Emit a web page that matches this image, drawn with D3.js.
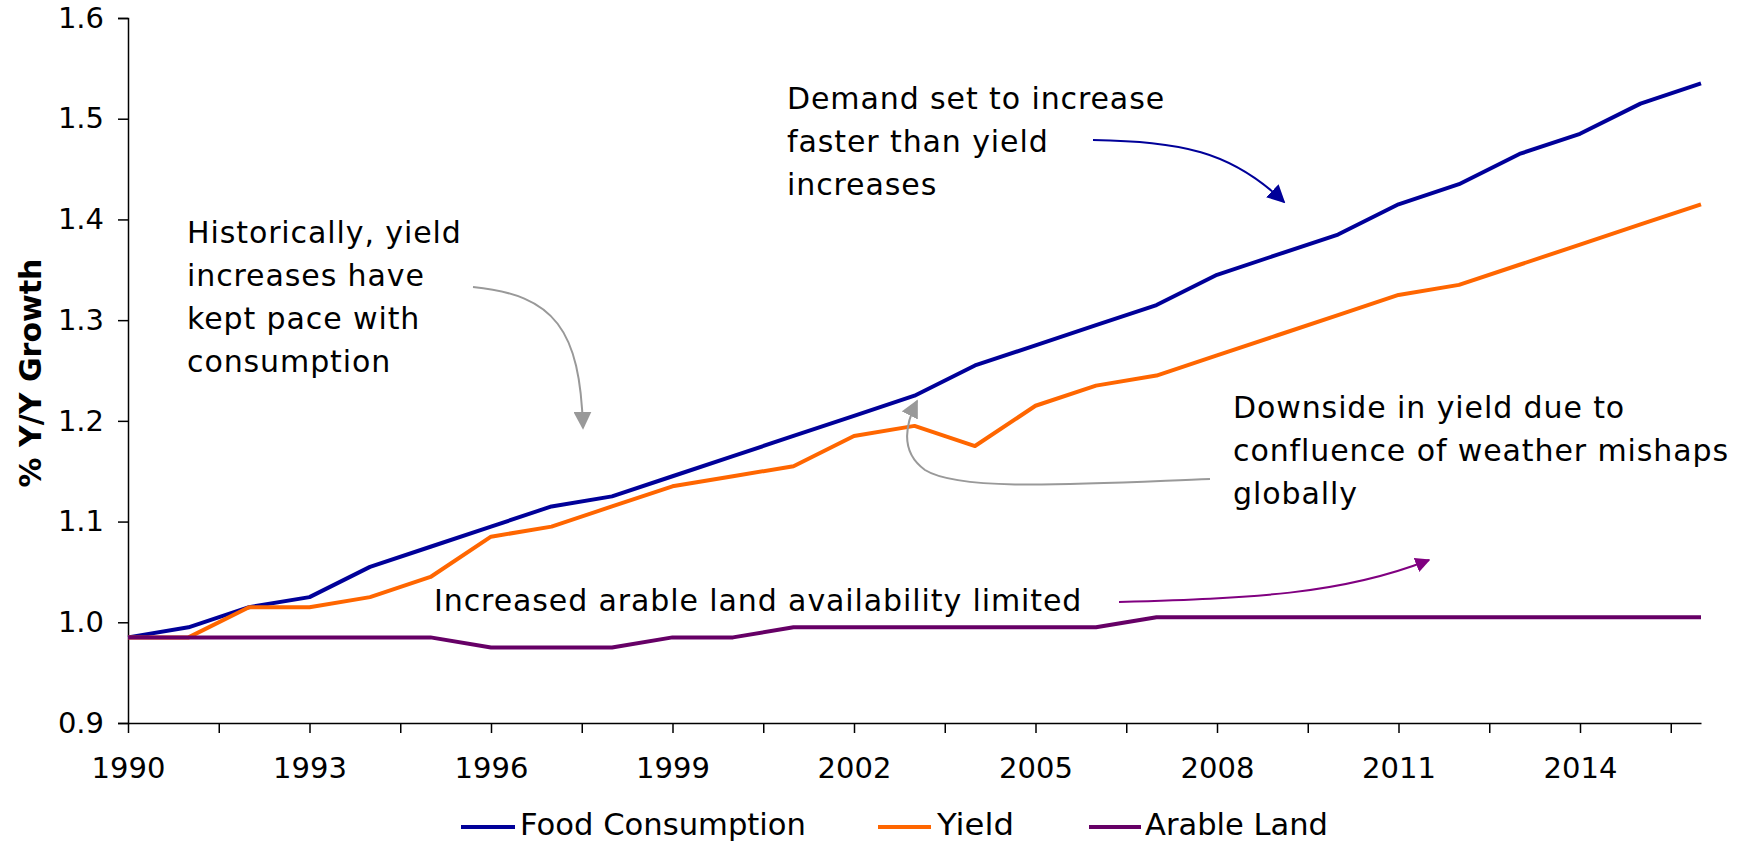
<!DOCTYPE html>
<html>
<head>
<meta charset="utf-8">
<script src="https://d3js.org/d3.v7.min.js"></script>
<style>
  body { margin: 0; background: #fff; }
  text { font-family: "DejaVu Sans", Verdana, sans-serif; fill: #000; }
</style>
</head>
<body>
<div id="chart"></div>
<script>
// Datos del gráfico
const years = d3.range(1990, 2017);
const foodConsumption = [0.985, 0.995, 1.015, 1.025, 1.055, 1.075, 1.095, 1.115, 1.125, 1.145, 1.165, 1.185, 1.205, 1.225, 1.255, 1.275, 1.295, 1.315, 1.345, 1.365, 1.385, 1.415, 1.435, 1.465, 1.485, 1.515, 1.535];
const yieldValues = [0.985, 0.985, 1.015, 1.015, 1.025, 1.045, 1.085, 1.095, 1.115, 1.135, 1.145, 1.155, 1.185, 1.195, 1.175, 1.215, 1.235, 1.245, 1.265, 1.285, 1.305, 1.325, 1.335, 1.355, 1.375, 1.395, 1.415];
const arableLand = [0.985, 0.985, 0.985, 0.985, 0.985, 0.985, 0.975, 0.975, 0.975, 0.985, 0.985, 0.995, 0.995, 0.995, 0.995, 0.995, 0.995, 1.005, 1.005, 1.005, 1.005, 1.005, 1.005, 1.005, 1.005, 1.005, 1.005];
const yTicks = [0.9, 1.0, 1.1, 1.2, 1.3, 1.4, 1.5, 1.6];
const xLabelYears = [1990, 1993, 1996, 1999, 2002, 2005, 2008, 2011, 2014];
const seriesNames = ["Food Consumption", "Yield", "Arable Land"];
const seriesColors = ["#000099", "#FF6600", "#660066"];

const W = 1746, H = 843;
const svg = d3.select("#chart").append("svg")
  .attr("width", W).attr("height", H);

const x = d3.scaleLinear().domain([1990, 2016]).range([128, 1701]);
const y = d3.scaleLinear().domain([0.9, 1.6]).range([723, 18]);

// Marcas de flecha
const defs = svg.append("defs");
function marker(id, color, size) {
  defs.append("marker")
    .attr("id", id)
    .attr("viewBox", "0 0 10 10")
    .attr("refX", 9).attr("refY", 5)
    .attr("markerUnits", "userSpaceOnUse")
    .attr("markerWidth", size).attr("markerHeight", size)
    .attr("orient", "auto")
    .append("path").attr("d", "M0,0 L10,5 L0,10 z").attr("fill", color);
}
marker("arrGray", "#999999", 18);
marker("arrBlue", "#000099", 18);
marker("arrPurple", "#800080", 15);

// Ejes
const yAxis = d3.axisLeft(y).tickValues(yTicks).tickFormat(d3.format(".1f")).tickSize(10).tickPadding(14);
svg.append("g").attr("transform", "translate(128,0)").call(yAxis)
  .call(g => g.select(".domain").attr("stroke-width", 1.5))
  .call(g => g.selectAll(".tick line").attr("stroke-width", 1.5))
  .call(g => g.selectAll("text").attr("font-size", 29).attr("font-family", "DejaVu Sans"));

const xTickVals = d3.range(0, 18).map(i => 1990 + i * 1.5);
const xAxis = d3.axisBottom(x).tickValues(xTickVals)
  .tickFormat(d => xLabelYears.includes(d) ? String(d) : "")
  .tickSize(10).tickSizeOuter(0).tickPadding(24);
svg.append("g").attr("transform", "translate(0,723)").call(xAxis)
  .call(g => g.select(".domain").attr("stroke-width", 1.5))
  .call(g => g.selectAll(".tick line").attr("stroke-width", 1.5))
  .call(g => g.selectAll("text").attr("font-size", 29).attr("font-family", "DejaVu Sans"));

// Título del eje Y
svg.append("text")
  .attr("transform", "translate(41,373) rotate(-90)")
  .attr("text-anchor", "middle")
  .attr("font-size", 30).attr("font-weight", "bold")
  .text("% Y/Y Growth");

// Líneas
const line = d3.line().x((d, i) => x(years[i])).y(d => y(d));
[foodConsumption, yieldValues, arableLand].forEach((s, k) => {
  svg.append("path").datum(s)
    .attr("d", line)
    .attr("fill", "none")
    .attr("stroke", seriesColors[k])
    .attr("stroke-width", 4)
    .attr("stroke-linejoin", "round");
});

// Anotaciones
function note(lines, left, base) {
  const t = svg.append("text").attr("font-size", 30).attr("letter-spacing", 0.9);
  lines.forEach((l, i) => {
    t.append("tspan").attr("x", left).attr("y", base + i * 43).text(l);
  });
}
note(["Historically, yield", "increases have", "kept pace with", "consumption"], 187, 243);
note(["Demand set to increase", "faster than yield", "increases"], 787, 109);
note(["Downside in yield due to", "confluence of weather mishaps", "globally"], 1233, 418);
note(["Increased arable land availability limited"], 434, 611);

svg.append("path")
  .attr("d", "M473,287 C555,295 580,330 583,428")
  .attr("fill", "none").attr("stroke", "#999999").attr("stroke-width", 2)
  .attr("marker-end", "url(#arrGray)");
svg.append("path")
  .attr("d", "M1210,479 C1080,484 960,492 925,470 C900,452 905,425 917,401")
  .attr("fill", "none").attr("stroke", "#999999").attr("stroke-width", 2)
  .attr("marker-end", "url(#arrGray)");
svg.append("path")
  .attr("d", "M1093,140 C1180,142 1230,150 1284,202")
  .attr("fill", "none").attr("stroke", "#000099").attr("stroke-width", 2)
  .attr("marker-end", "url(#arrBlue)");
svg.append("path")
  .attr("d", "M1119,602 C1250,598 1340,595 1429,560")
  .attr("fill", "none").attr("stroke", "#800080").attr("stroke-width", 2)
  .attr("marker-end", "url(#arrPurple)");

// Leyenda
const legendPos = [
  { x1: 461, x2: 515, tx: 520, tw: 286 },
  { x1: 878, x2: 931, tx: 937, tw: 77 },
  { x1: 1089, x2: 1141, tx: 1145, tw: 183 }
];
seriesNames.forEach((name, k) => {
  const p = legendPos[k];
  svg.append("line")
    .attr("x1", p.x1).attr("x2", p.x2).attr("y1", 827).attr("y2", 827)
    .attr("stroke", seriesColors[k]).attr("stroke-width", 4);
  svg.append("text")
    .attr("x", p.tx).attr("y", 835)
    .attr("font-size", 30)
    .attr("textLength", p.tw).attr("lengthAdjust", "spacingAndGlyphs")
    .text(name);
});
</script>
</body>
</html>
